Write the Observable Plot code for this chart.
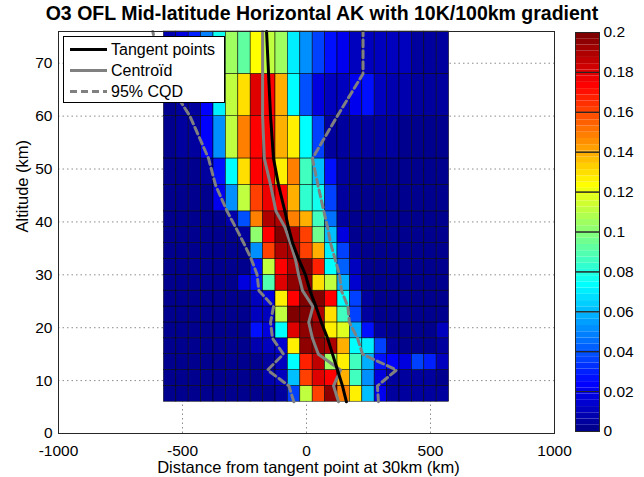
<!DOCTYPE html>
<html><head><meta charset="utf-8">
<script src="https://cdn.jsdelivr.net/npm/d3@7"></script>
<script src="https://cdn.jsdelivr.net/npm/@observablehq/plot@0.6"></script>
<style>
body{margin:0;background:#fff;font-family:"Liberation Sans",Arial,sans-serif;}
#wrap{position:relative;width:644px;height:477px;overflow:hidden;background:#fff;}
#wrap svg{position:absolute;}
#title{position:absolute;left:0;width:644px;top:2px;line-height:23px;text-align:center;font-weight:bold;font-size:19.5px;color:#000;white-space:nowrap;}
#legend{position:absolute;left:63px;top:36px;width:162px;height:67px;border:1px solid #000;background:#fff;box-sizing:border-box;font-size:16px;}
#legend .row{position:absolute;left:0;height:21px;width:160px;}
#legend .row span{position:absolute;left:47px;top:1px;line-height:19px;white-space:nowrap;}
</style></head>
<body>
<div id="wrap">
  <div id="title">O3 OFL Mid-latitude Horizontal AK with 10K/100km gradient</div>
</div>
<script>
// ---- data ----
const colEdges = [-575,-525,-475,-425,-375,-325,-275,-225,-175,-125,-75,-25,25,75,125,175,225,275,325,375,425,475,525,575];
const altEdges = [6,9,12,15,18,21,24,27,30,33,36,39,42,47,52,60,68,76];
// AK values per altitude band (bottom to top), 23 distance bins each
const row06_09 = [0.003,0.003,0.003,0.003,0.003,0.003,0.003,0.003,0.003,0.006,0.037,0.112,0.162,0.195,0.15,0.125,0.062,0.02,0.006,0.004,0.004,0.006,0.004];
const row09_12 = [0.003,0.003,0.003,0.003,0.003,0.003,0.003,0.003,0.008,0.012,0.062,0.162,0.18,0.175,0.14,0.087,0.05,0.016,0.004,0.004,0.004,0.004,0.003];
const row12_15 = [0.003,0.003,0.003,0.003,0.003,0.003,0.003,0.003,0.006,0.01,0.075,0.168,0.185,0.105,0.125,0.087,0.058,0.025,0.022,0.016,0.037,0.03,0.012];
const row15_18 = [0.003,0.003,0.003,0.003,0.003,0.003,0.003,0.008,0.012,0.014,0.125,0.195,0.195,0.19,0.14,0.075,0.07,0.037,0.004,0.003,0.003,0.003,0.006];
const row18_21 = [0.003,0.003,0.003,0.003,0.003,0.003,0.003,0.025,0.016,0.075,0.18,0.195,0.195,0.125,0.118,0.058,0.025,0.006,0.003,0.003,0.003,0.003,0.012];
const row21_24 = [0.003,0.003,0.003,0.003,0.003,0.003,0.003,0.012,0.012,0.112,0.2,0.2,0.19,0.13,0.087,0.037,0.004,0.003,0.003,0.003,0.003,0.003,0.003];
const row24_27 = [0.003,0.003,0.003,0.003,0.003,0.003,0.003,0.012,0.016,0.125,0.172,0.2,0.2,0.172,0.075,0.037,0.004,0.003,0.003,0.003,0.003,0.003,0.003];
const row27_30 = [0.003,0.003,0.003,0.003,0.003,0.003,0.016,0.025,0.09,0.18,0.195,0.195,0.13,0.112,0.058,0.014,0.003,0.003,0.003,0.003,0.003,0.003,0.003];
const row30_33 = [0.003,0.003,0.003,0.003,0.003,0.003,0.003,0.025,0.112,0.172,0.19,0.2,0.168,0.075,0.043,0.012,0.003,0.003,0.003,0.003,0.003,0.003,0.003];
const row33_36 = [0.003,0.003,0.003,0.003,0.003,0.003,0.003,0.053,0.162,0.19,0.192,0.16,0.14,0.07,0.037,0.004,0.003,0.003,0.003,0.003,0.003,0.003,0.003];
const row36_39 = [0.003,0.003,0.003,0.003,0.003,0.003,0.006,0.1,0.172,0.2,0.19,0.16,0.095,0.062,0.018,0.003,0.003,0.003,0.003,0.003,0.003,0.003,0.003];
const row39_42 = [0.003,0.003,0.003,0.003,0.003,0.008,0.04,0.15,0.19,0.19,0.15,0.14,0.087,0.045,0.004,0.003,0.003,0.003,0.003,0.003,0.003,0.003,0.003];
const row42_47 = [0.003,0.003,0.003,0.003,0.02,0.053,0.112,0.162,0.178,0.172,0.14,0.082,0.078,0.037,0.004,0.003,0.003,0.003,0.003,0.003,0.003,0.003,0.003];
const row47_52 = [0.003,0.003,0.003,0.006,0.025,0.075,0.13,0.172,0.178,0.125,0.15,0.087,0.062,0.025,0.004,0.003,0.003,0.003,0.003,0.003,0.003,0.003,0.003];
const row52_60 = [0.003,0.004,0.006,0.022,0.053,0.112,0.15,0.172,0.175,0.14,0.125,0.075,0.037,0.006,0.004,0.004,0.004,0.004,0.004,0.003,0.003,0.003,0.003];
const row60_68 = [0.003,0.004,0.006,0.022,0.07,0.112,0.13,0.18,0.175,0.14,0.072,0.04,0.016,0.01,0.012,0.02,0.025,0.012,0.007,0.007,0.004,0.004,0.004];
const row68_76 = [0.008,0.016,0.03,0.047,0.076,0.105,0.092,0.123,0.11,0.105,0.07,0.053,0.037,0.025,0.02,0.012,0.012,0.01,0.01,0.01,0.004,0.004,0.004];
const akRows = [row06_09,row09_12,row12_15,row15_18,row18_21,row21_24,row24_27,row27_30,row30_33,row33_36,row36_39,row39_42,row42_47,row47_52,row52_60,row60_68,row68_76];

// Lines, given at the altitude levels altEdges (km)
const tangentDist  = [161,145,125,105,85,60,38,14,-4,-32,-56,-73,-87,-113,-133,-145,-153,-161];
const centroidDist = [129,109,137,48,24,9,26,-16,-32,-45,-65,-87,-123,-145,-170,-177,-177,-177];
const cqdLeftDist  = [-51,-71,-157,-93,-137,-145,-133,-192,-199,-223,-253,-286,-320,-367,-395,-470,-580,-620];
const cqdRightDist = [290,286,363,226,206,173,167,141,133,115,97,85,70,46,24,124,228,228];

const xTicks = [-1000,-500,0,500,1000];
const yTicks = [0,10,20,30,40,50,60,70];
const cbTicks = [0,0.02,0.04,0.06,0.08,0.1,0.12,0.14,0.16,0.18,0.2];
const xLabel = "Distance from tangent point at 30km (km)";
const yLabel = "Altitude (km)";
const cMax = 0.2;

// ---- MATLAB jet(64) ----
function jet64(){
  const n=64, m=16, u=[];
  for(let k=1;k<=m;k++) u.push(k/m);
  for(let k=0;k<m-1;k++) u.push(1);
  for(let k=m;k>=1;k--) u.push(k/m);
  const J = Array.from({length:n},()=>[0,0,0]);
  const g0 = Math.ceil(m/2);
  for(let j=0;j<u.length;j++){
    const gi=g0+j+1, ri=gi+m, bi=gi-m;
    if(ri<=n) J[ri-1][0]=u[j];
    if(gi<=n) J[gi-1][1]=u[j];
    if(bi>=1) J[bi-1][2]=u[j];
  }
  return J.map(c=>d3.rgb(c[0]*255,c[1]*255,c[2]*255).formatHex());
}
const jetColors = jet64();
const thresholds = d3.range(1,64).map(i=>i*cMax/64);
const colorScale = {type:"threshold", domain:thresholds, range:jetColors};

// ---- build tables ----
const cells = [];
akRows.forEach((row,ri)=>row.forEach((v,ci)=>cells.push({
  x1:colEdges[ci], x2:colEdges[ci+1], y1:altEdges[ri], y2:altEdges[ri+1], v
})));
const mk = arr => arr.map((d,i)=>({d, alt:altEdges[i]}));
const fmt = d => String(d);
const FONT = "'Liberation Sans', Arial, sans-serif";

const main = Plot.plot({
  width:644, height:477,
  marginLeft:58, marginRight:90, marginTop:31, marginBottom:44,
  style:{fontFamily:FONT, fontSize:"15.5px", background:"transparent", color:"#000"},
  x:{domain:[-1000,1000]},
  y:{domain:[0,76]},
  color:colorScale,
  marks:[
    Plot.gridX(xTicks,{stroke:"#8c8c8c", strokeOpacity:1, strokeDasharray:"1.5,3"}),
    Plot.gridY(yTicks,{stroke:"#8c8c8c", strokeOpacity:1, strokeDasharray:"1.5,3"}),
    Plot.rect(cells,{x1:"x1",x2:"x2",y1:"y1",y2:"y2",fill:"v",stroke:"#000",strokeWidth:0.6,strokeOpacity:0.85,inset:0}),
    Plot.line(mk(cqdLeftDist),{x:"d",y:"alt",stroke:"#808080",strokeWidth:3,strokeDasharray:"7,4"}),
    Plot.line(mk(cqdRightDist),{x:"d",y:"alt",stroke:"#808080",strokeWidth:3,strokeDasharray:"7,4"}),
    Plot.line(mk(centroidDist),{x:"d",y:"alt",stroke:"#808080",strokeWidth:3}),
    Plot.line(mk(tangentDist),{x:"d",y:"alt",stroke:"#000",strokeWidth:3}),
    Plot.frame({stroke:"#262626"}),
    Plot.axisX(xTicks,{tickSize:0,tickPadding:11,tickFormat:fmt,label:null}),
    Plot.axisY(yTicks,{tickSize:0,tickPadding:6,tickFormat:fmt,label:null}),
    Plot.text([xLabel],{text:d=>d,frameAnchor:"bottom",dy:34,dx:2,fontSize:16.5,lineAnchor:"middle",fill:"#000"}),
    Plot.text([yLabel],{text:d=>d,frameAnchor:"left",dx:-36,rotate:-90,fontSize:16.5,lineAnchor:"middle",fill:"#000"})
  ]
});
main.style.left="0px"; main.style.top="0px";
document.getElementById("wrap").appendChild(main);

// ---- colorbar ----
const bins = d3.range(64).map(i=>({y1:i*cMax/64, y2:(i+1)*cMax/64, v:(i+0.5)*cMax/64}));
const cbar = Plot.plot({
  width:70, height:477,
  marginLeft:1, marginRight:45, marginTop:32, marginBottom:46,
  style:{fontFamily:FONT, fontSize:"15.5px", background:"transparent", color:"#000"},
  x:{domain:[0,1], axis:null},
  y:{domain:[0,cMax]},
  color:colorScale,
  marks:[
    Plot.rect(bins,{x1:0,x2:1,y1:"y1",y2:"y2",fill:"v",inset:0}),
    Plot.frame({stroke:"#262626"}),
    Plot.axisY(cbTicks,{anchor:"right",tickSize:0,tickPadding:4,tickFormat:fmt,label:null}),
    Plot.tickY(cbTicks,{y:d=>d,x1:0,x2:0.17,stroke:"#262626"}),
    Plot.tickY(cbTicks,{y:d=>d,x1:0.83,x2:1,stroke:"#262626"})
  ]
});
cbar.style.left="574px"; cbar.style.top="0px";
document.getElementById("wrap").appendChild(cbar);

// ---- legend ----
const legendItems = [
  {label:"Tangent points", color:"#000", dash:null},
  {label:"Centro\u00efd", color:"#808080", dash:null},
  {label:"95% CQD", color:"#808080", dash:"7,4"}
];
const lg = document.createElement("div");
lg.id="legend";
legendItems.forEach((it,i)=>{
  const r=document.createElement("div");
  r.className="row"; r.style.top=(2+i*21)+"px";
  r.innerHTML=`<svg width="45" height="21" style="position:absolute;left:0;top:0"><line x1="6" x2="43" y1="10.5" y2="10.5" stroke="${it.color}" stroke-width="3" ${it.dash?`stroke-dasharray="${it.dash}"`:""}/></svg><span>${it.label}</span>`;
  lg.appendChild(r);
});
document.getElementById("wrap").appendChild(lg);
</script>
</body></html>
